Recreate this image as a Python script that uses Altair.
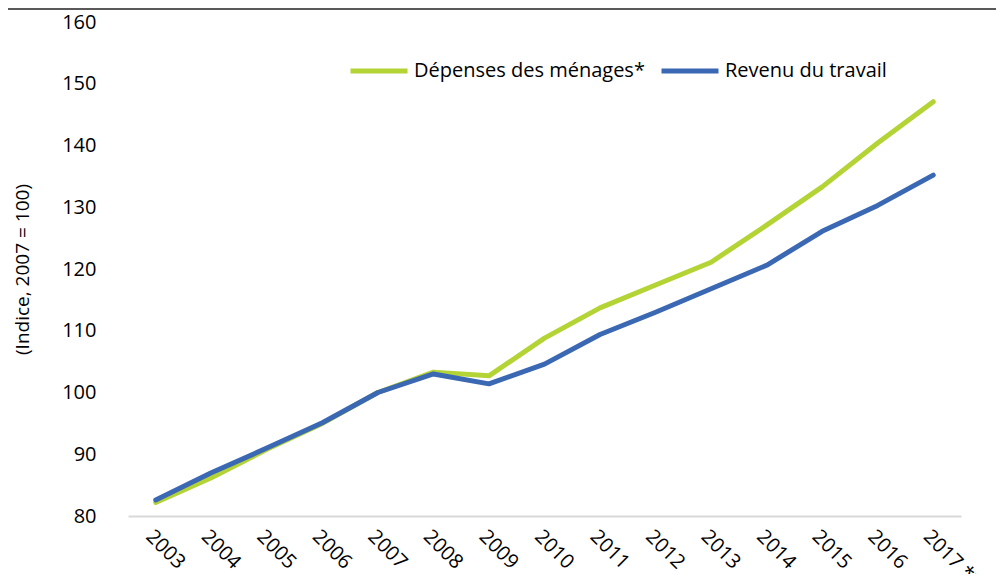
import altair as alt
import pandas as pd

years = ["2003", "2004", "2005", "2006", "2007", "2008", "2009", "2010",
         "2011", "2012", "2013", "2014", "2015", "2016", "2017 **"]
depenses = [82.2, 86.2, 90.8, 95.0, 100.0, 103.3, 102.7, 108.8,
            113.7, 117.4, 121.1, 127.1, 133.3, 140.4, 147.1]
revenu = [82.6, 87.0, 91.0, 95.1, 100.0, 103.0, 101.4, 104.6,
          109.4, 113.0, 116.8, 120.6, 126.1, 130.3, 135.2]
series_names = ["Dépenses des ménages*", "Revenu du travail"]
series_colors = ["#b4d335", "#3b68b3"]

df_dep = pd.DataFrame({"annee": years, "valeur": depenses, "serie": series_names[0]})
df_rev = pd.DataFrame({"annee": years, "valeur": revenu, "serie": series_names[1]})

FONT = "Open Sans"
W, H = 833, 494

x = alt.X("annee:O", sort=years, title=None,
          scale=alt.Scale(type="point", padding=0.5),
          axis=alt.Axis(labelAngle=45, labelAlign="left", labelBaseline="top",
                        labelPadding=10, ticks=False, domainColor="#d9d9d9",
                        domainWidth=2, labelFontSize=20, labelColor="#000000",
                        labelFont=FONT, grid=False, labelOverlap=False))
y = alt.Y("valeur:Q", title="(Indice, 2007 = 100)",
          scale=alt.Scale(domain=[80, 160], nice=False, zero=False),
          axis=alt.Axis(values=[80, 90, 100, 110, 120, 130, 140, 150, 160],
                        domain=False, ticks=False, grid=False, labelPadding=32,
                        labelFontSize=20, labelColor="#000000", labelFont=FONT,
                        titleFont=FONT, titleFontSize=19, titleFontWeight="normal",
                        titleColor="#000000", titleX=-106, titleY=H / 2,
                        titleAngle=-90, titleAlign="center", titleBaseline="middle"))
color = alt.Color("serie:N", title=None,
                  scale=alt.Scale(domain=series_names, range=series_colors),
                  legend=alt.Legend(orient="none", legendX=220, legendY=18,
                                    direction="horizontal", symbolType="stroke",
                                    symbolSize=3249, symbolStrokeWidth=5,
                                    labelFont=FONT, labelFontSize=20,
                                    labelColor="#000000", labelOffset=4,
                                    columnPadding=6, padding=0,
                                    labelLimit=400))

line_dep = alt.Chart(df_dep).mark_line(strokeWidth=5, strokeCap="round",
                                       strokeJoin="round").encode(x=x, y=y, color=color)
line_rev = alt.Chart(df_rev).mark_line(strokeWidth=5, strokeCap="round",
                                       strokeJoin="round").encode(x=x, y=y, color=color)

top_rule = alt.Chart(pd.DataFrame({"k": [0]})).mark_rule(
    color="#595959", strokeWidth=2).encode(
    x=alt.value(-120), x2=alt.value(W + 40), y=alt.value(-13))

chart = alt.layer(top_rule, line_dep, line_rev).properties(
    width=W, height=H,
    autosize=alt.AutoSizeParams(type="none"),
    padding={"left": 120, "top": 14, "right": 35, "bottom": 58},
).configure_view(stroke=None)

chart.save("out.html", embed_options={"renderer": "svg", "actions": False})
